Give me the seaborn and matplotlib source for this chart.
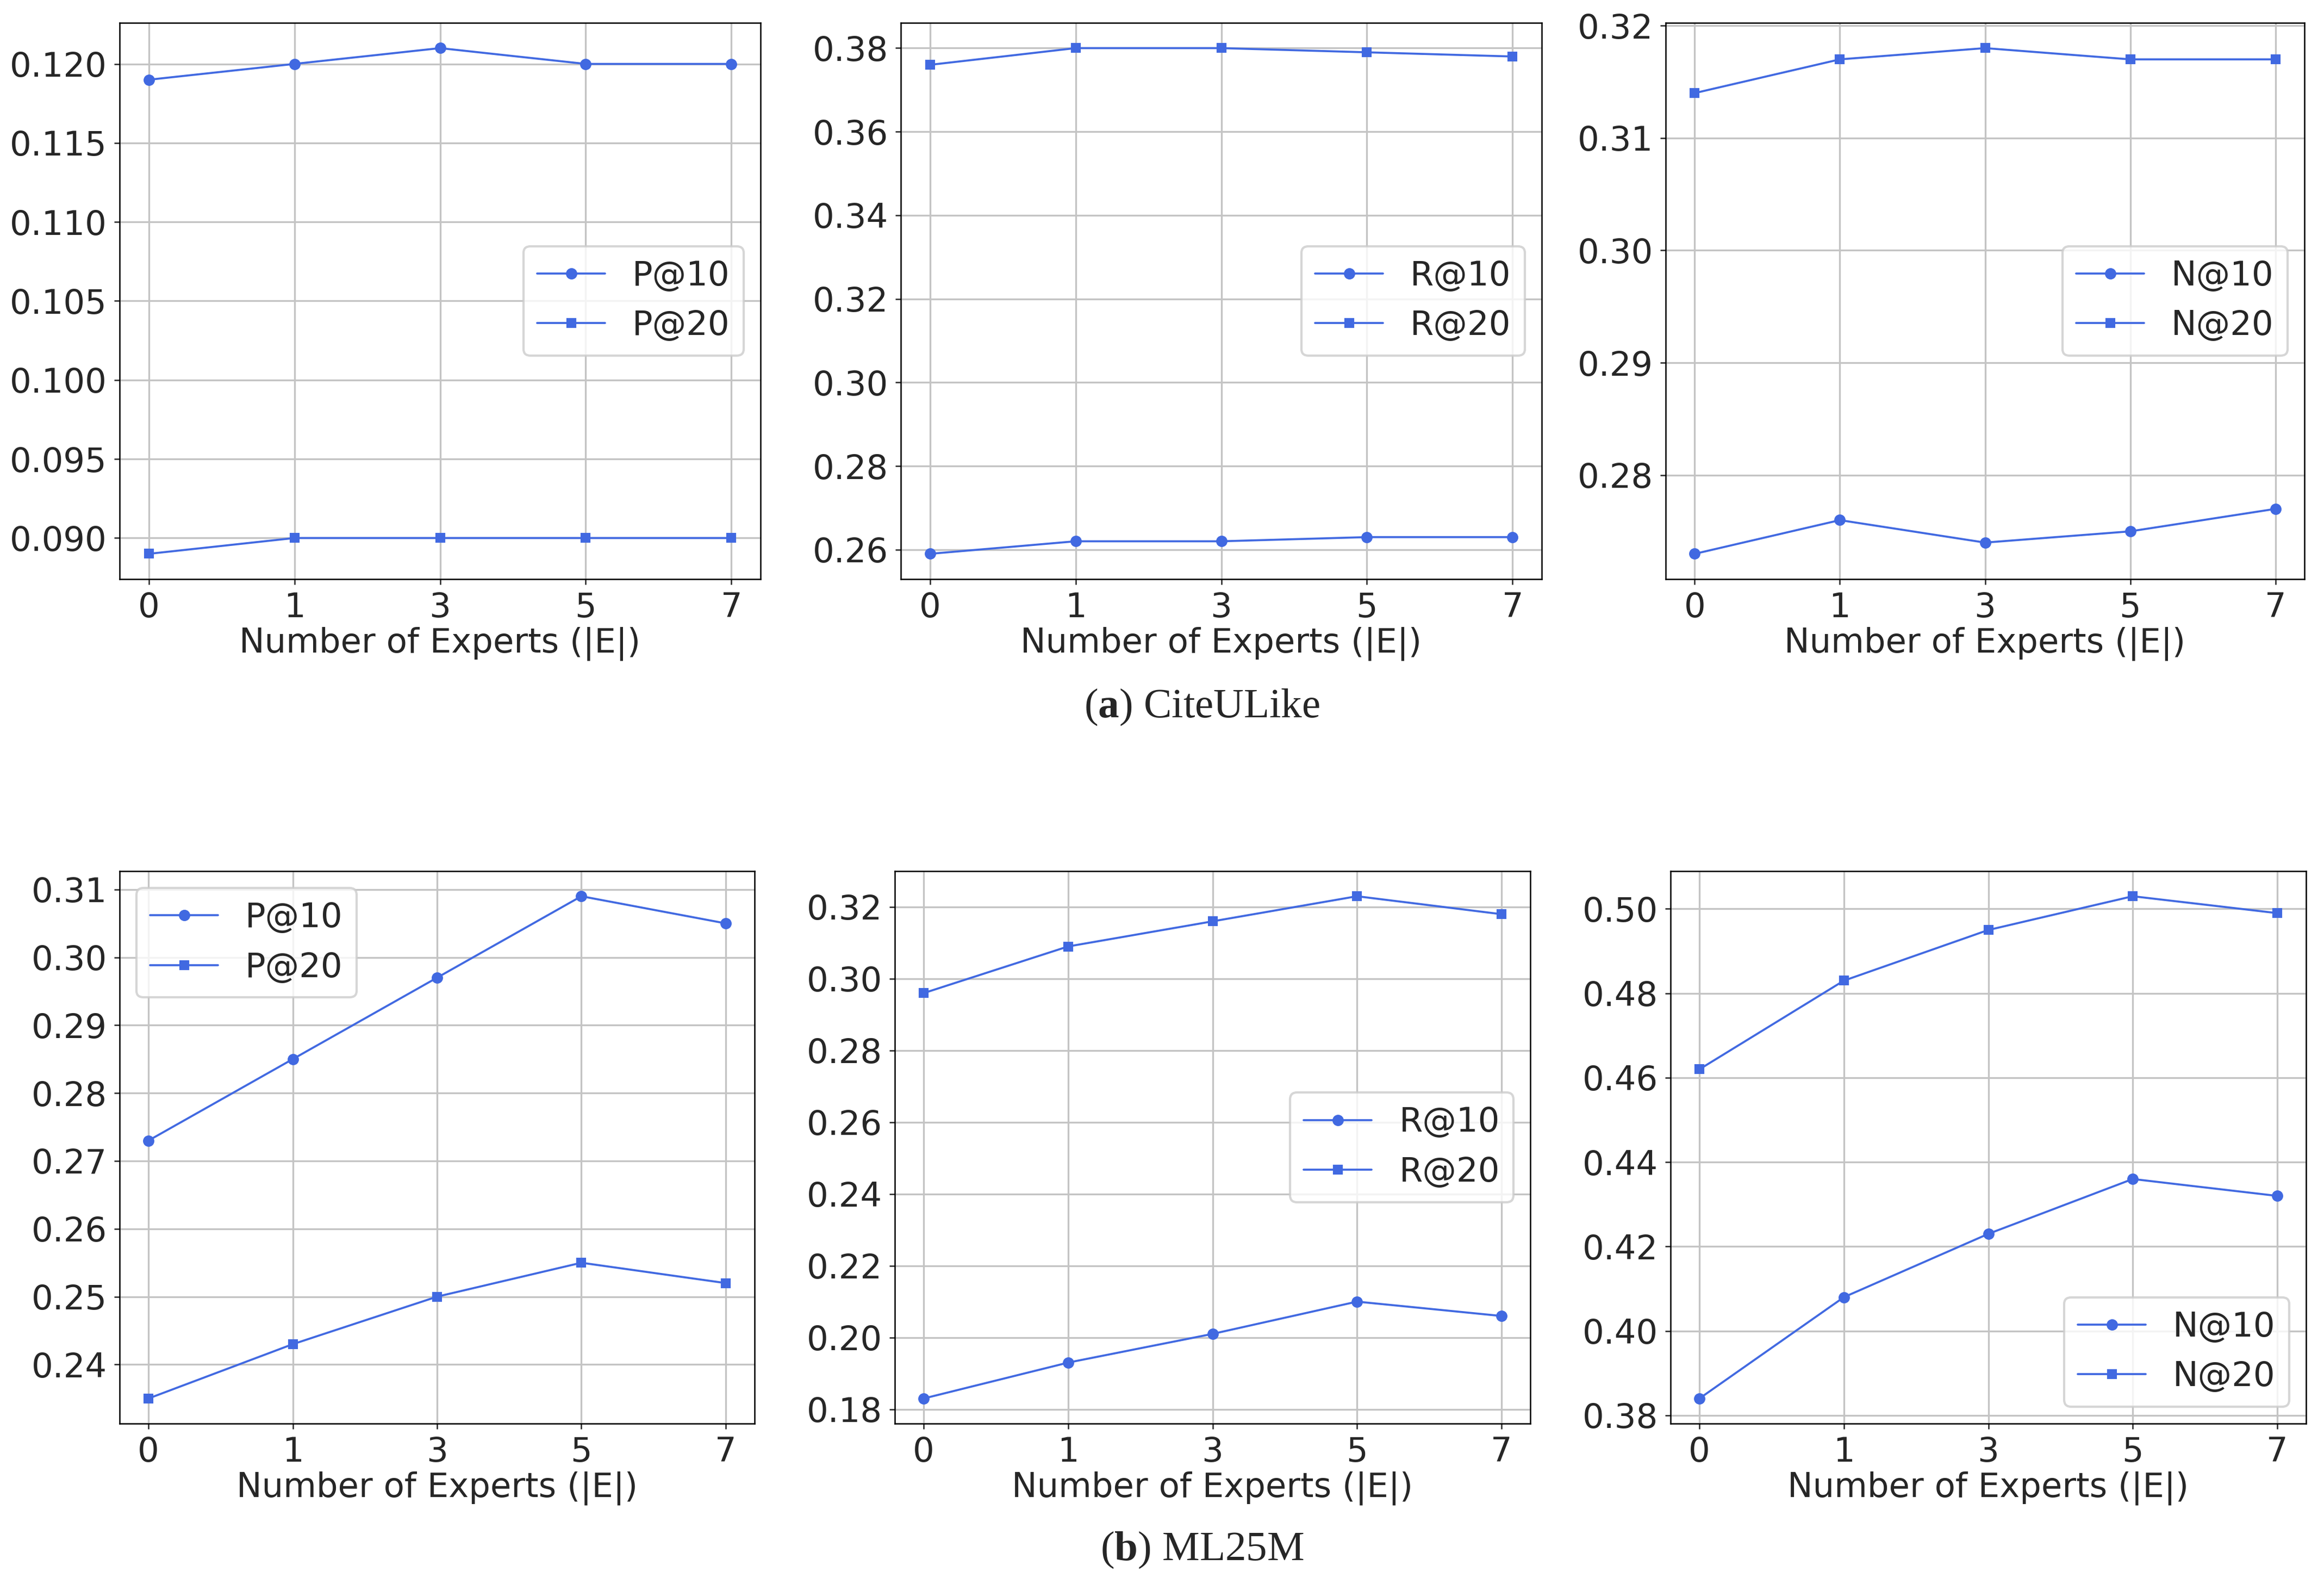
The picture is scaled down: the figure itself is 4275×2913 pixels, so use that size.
import matplotlib
matplotlib.use("Agg")
import matplotlib.pyplot as plt
from matplotlib.ticker import MultipleLocator
import seaborn as sns

# x axis: number of experts (equally spaced categories)
experts = ["0", "1", "3", "5", "7"]

# (a) CiteULike
cite_p10 = [0.119, 0.120, 0.121, 0.120, 0.120]
cite_p20 = [0.089, 0.090, 0.090, 0.090, 0.090]
cite_r10 = [0.259, 0.262, 0.262, 0.263, 0.263]
cite_r20 = [0.376, 0.380, 0.380, 0.379, 0.378]
cite_n10 = [0.273, 0.276, 0.274, 0.275, 0.277]
cite_n20 = [0.314, 0.317, 0.318, 0.317, 0.317]

# (b) ML25M
ml_p10 = [0.273, 0.285, 0.297, 0.309, 0.305]
ml_p20 = [0.235, 0.243, 0.250, 0.255, 0.252]
ml_r10 = [0.183, 0.193, 0.201, 0.210, 0.206]
ml_r20 = [0.296, 0.309, 0.316, 0.323, 0.318]
ml_n10 = [0.384, 0.408, 0.423, 0.436, 0.432]
ml_n20 = [0.462, 0.483, 0.495, 0.503, 0.499]

sns.set_style("ticks", {"axes.grid": True, "grid.color": "#c4c4c4",
                        "axes.edgecolor": "black"})
plt.rcParams["font.family"] = ["DejaVu Sans"]
plt.rcParams["mathtext.fontset"] = "custom"
plt.rcParams["mathtext.rm"] = "Liberation Serif"
plt.rcParams["mathtext.bf"] = "Liberation Serif:bold"

W, H = 4275, 2913
fig = plt.figure(figsize=(W / 300, H / 300), dpi=300)


def box(x0, x1, y0, y1):
    # pixel box (top-origin) -> figure fraction
    return [x0 / W, 1 - y1 / H, (x1 - x0) / W, (y1 - y0) / H]


panels = [
    (box(220, 1399, 42, 1065), cite_p10, cite_p20, "P", "center right", None),
    (box(1657, 2836, 42, 1065), cite_r10, cite_r20, "R", "center right", None),
    (box(3064, 4239, 42, 1065), cite_n10, cite_n20, "N", "center right", None),
    (box(220, 1388, 1602, 2618), ml_p10, ml_p20, "P", "upper left", 0.01),
    (box(1646, 2815, 1602, 2618), ml_r10, ml_r20, "R", "center right", None),
    (box(3073, 4242, 1602, 2618), ml_n10, ml_n20, "N", "lower right", None),
]

pos = list(range(len(experts)))
blue = "royalblue"

for rect, v10, v20, m, loc, step in panels:
    ax = fig.add_axes(rect)
    sns.lineplot(x=pos, y=v10, marker="o", color=blue, markersize=4.5,
                 mec=blue, mew=0.5, linewidth=0.9, label=f"{m}@10", ax=ax)
    sns.lineplot(x=pos, y=v20, marker="s", color=blue, markersize=3.8,
                 mec=blue, mew=0.5, linewidth=0.9, label=f"{m}@20", ax=ax)
    ax.set_xticks(pos)
    ax.set_xticklabels(experts)
    ax.set_xlim(-0.2, 4.2)
    if step:
        ax.yaxis.set_major_locator(MultipleLocator(step))
    ax.tick_params(labelsize=15, length=2.5, width=0.6, pad=3)
    ax.set_xlabel("Number of Experts (|E|)", fontsize=15, labelpad=1)
    ax.set_ylabel("")
    ax.grid(True, linewidth=0.8, color="#c4c4c4")
    for s in ax.spines.values():
        s.set_linewidth(0.6)
    ax.legend(loc=loc, fontsize=15, frameon=True, framealpha=0.8,
              edgecolor="0.8", fancybox=True)

fig.text(2211 / W, 1 - 1300 / H, r"($\mathbf{a}$) CiteULike", ha="center",
         va="center", fontsize=18.5, family="Liberation Serif")
fig.text(2211 / W, 1 - 2850 / H, r"($\mathbf{b}$) ML25M", ha="center",
         va="center", fontsize=18.5, family="Liberation Serif")

fig.savefig("out.png", dpi=300)
